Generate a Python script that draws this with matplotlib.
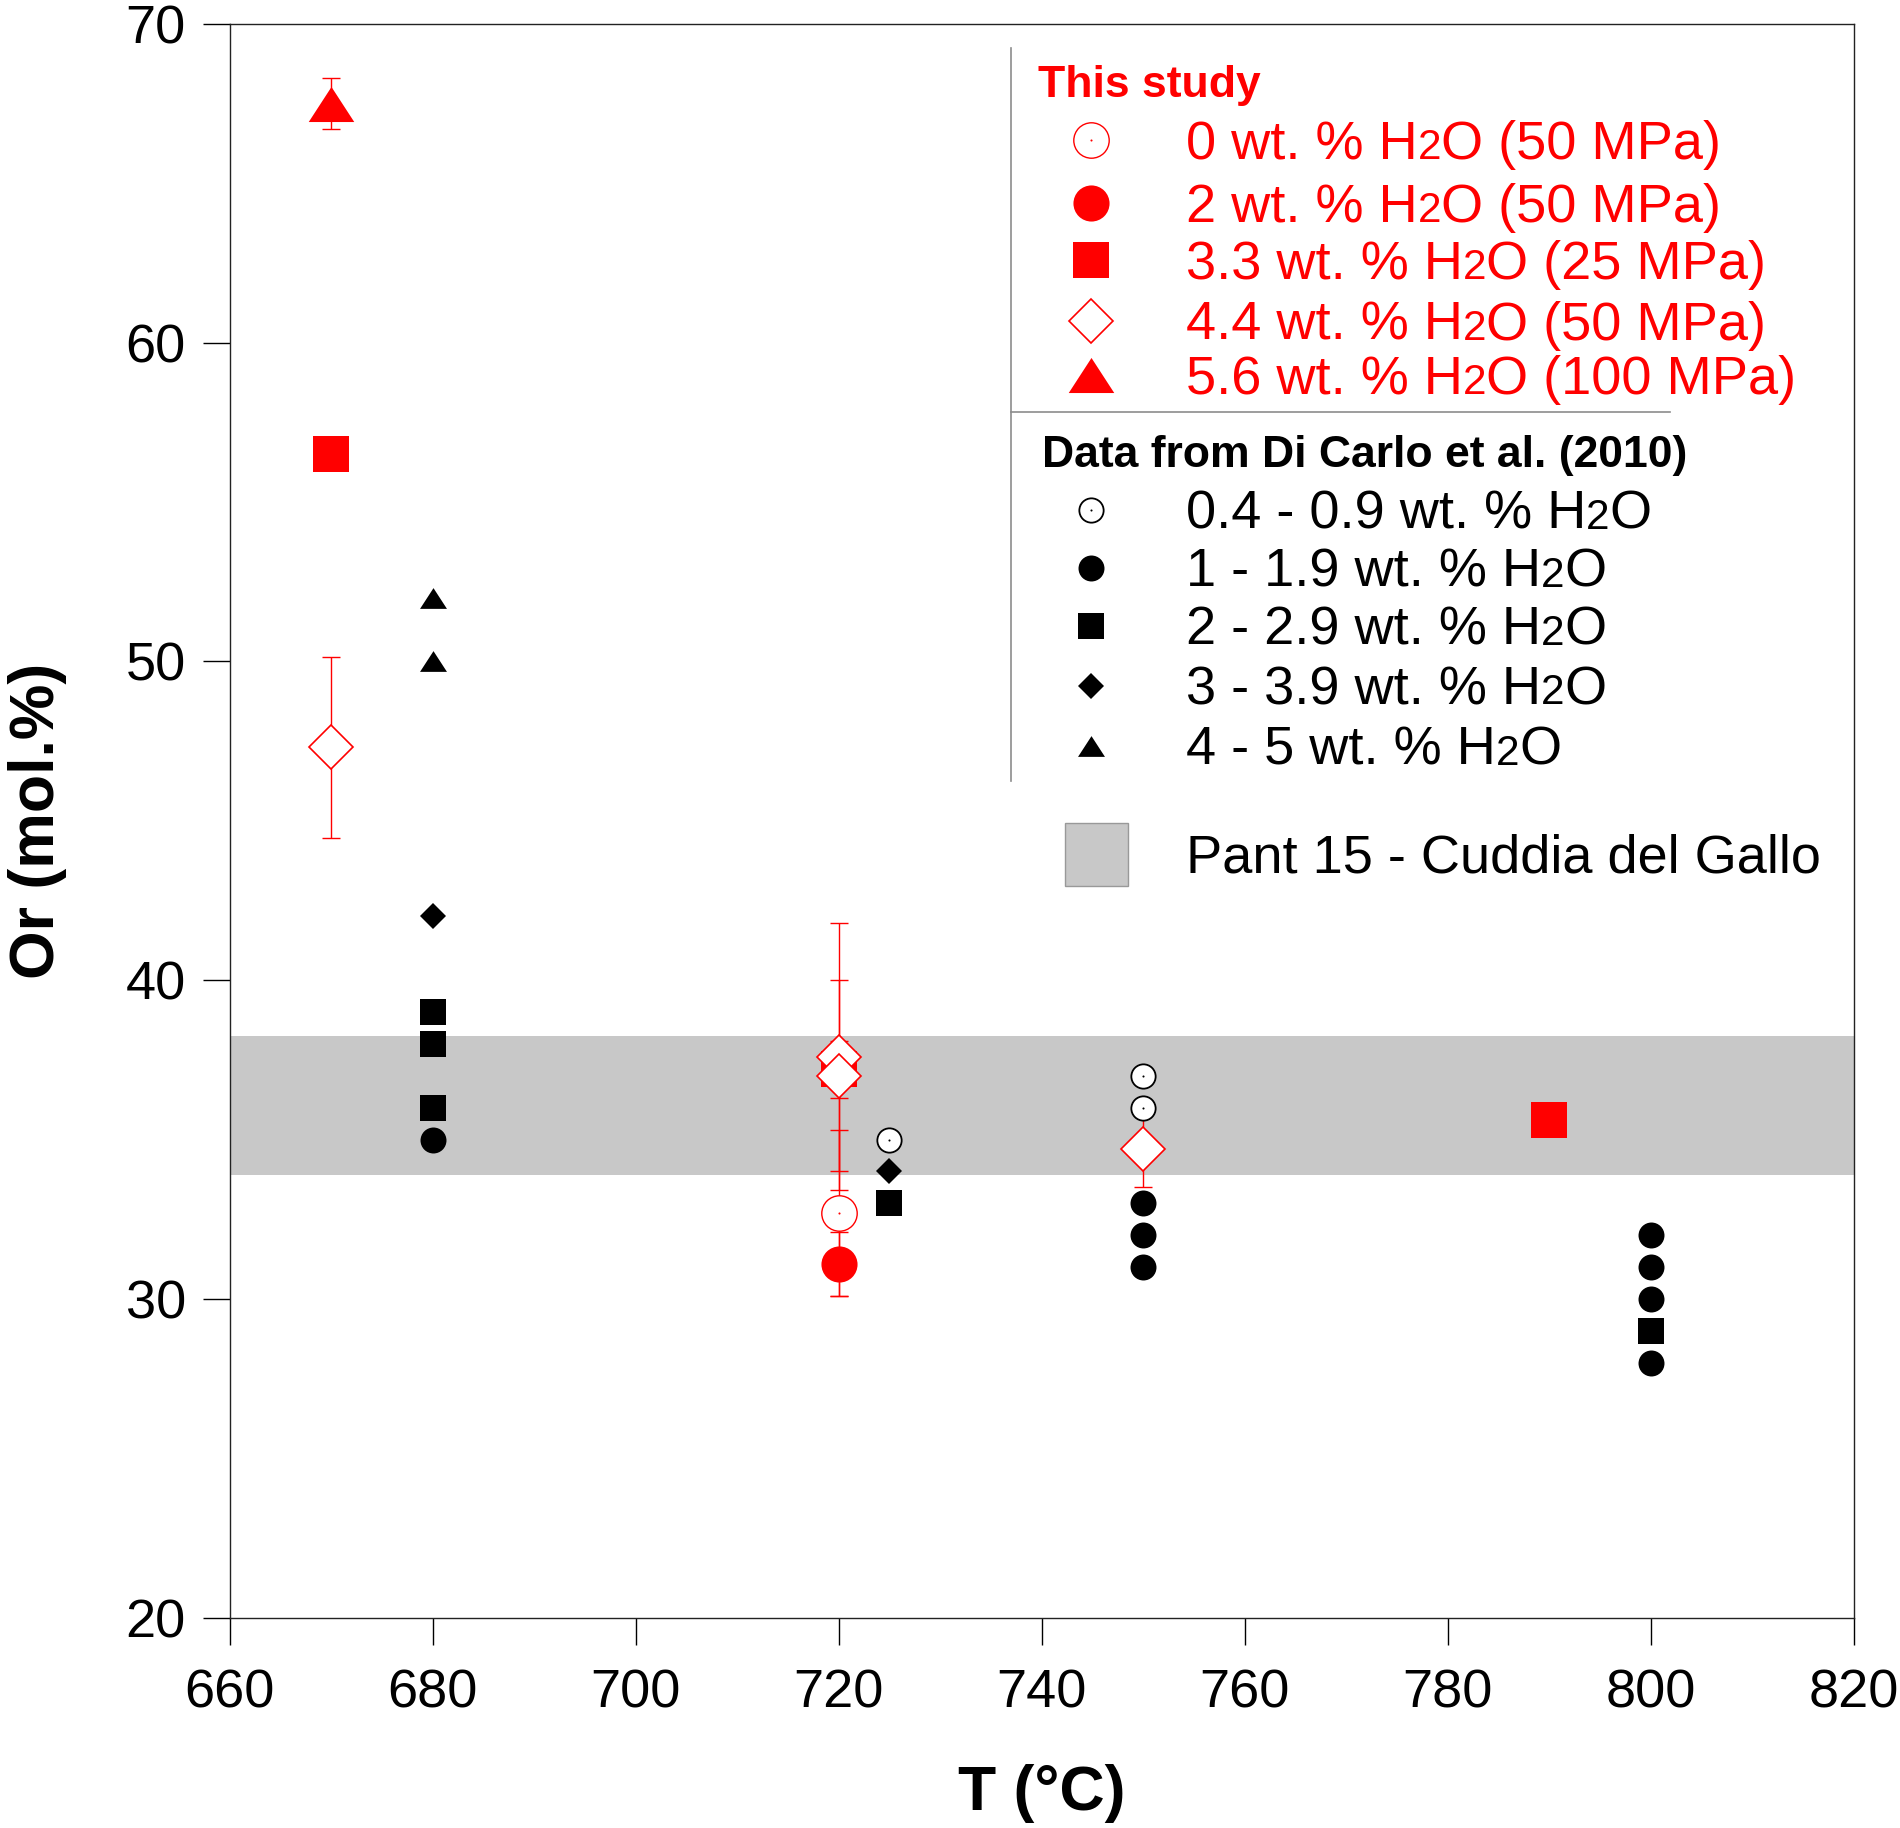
import matplotlib
matplotlib.use("Agg")
import matplotlib.pyplot as plt
from matplotlib.offsetbox import TextArea, HPacker, AnchoredOffsetbox
from matplotlib.patches import Rectangle
from matplotlib.lines import Line2D

plt.rcParams['font.family'] = ['Liberation Sans', 'DejaVu Sans']

# ---------------- data ----------------
# This study (red), with symmetric error bars
t_h2o_0 = [720]
or_h2o_0 = [32.7]
err_h2o_0 = [2.6]

t_h2o_2 = [720]
or_h2o_2 = [31.1]
err_h2o_2 = [1.0]

t_h2o_33 = [670, 720, 790]
or_h2o_33 = [56.5, 37.2, 35.6]
err_h2o_33 = [0.1, 0.9, 0.0]

t_h2o_44 = [670, 720, 720, 750]
or_h2o_44 = [47.3, 37.6, 37.0, 34.7]
err_h2o_44 = [2.85, 4.2, 3.0, 1.2]

t_h2o_56 = [670]
or_h2o_56 = [67.5]
err_h2o_56 = [0.8]

# Di Carlo et al. (2010) (black)
dc_t_04 = [725, 750, 750]
dc_or_04 = [35, 37, 36]
dc_t_1 = [680, 750, 750, 750, 800, 800, 800, 800]
dc_or_1 = [35, 33, 32, 31, 32, 31, 30, 28]
dc_t_2 = [680, 680, 680, 725, 800]
dc_or_2 = [39, 38, 36, 33, 29]
dc_t_3 = [680, 725]
dc_or_3 = [42, 34]
dc_t_4 = [680, 680]
dc_or_4 = [52, 50]

# Pant 15 - Cuddia del Gallo range
band_lo, band_hi = 33.9, 38.25

x_ticks = [660, 680, 700, 720, 740, 760, 780, 800, 820]
y_ticks = [20, 30, 40, 50, 60, 70]

red_title = "This study"
red_labels = ["0 wt. % H2O (50 MPa)", "2 wt. % H2O (50 MPa)", "3.3 wt. % H2O (25 MPa)",
              "4.4 wt. % H2O (50 MPa)", "5.6 wt. % H2O (100 MPa)"]
black_title = "Data from Di Carlo et al. (2010)"
black_labels = ["0.4 - 0.9 wt. % H2O", "1 - 1.9 wt. % H2O", "2 - 2.9 wt. % H2O",
                "3 - 3.9 wt. % H2O", "4 - 5 wt. % H2O"]
band_label = "Pant 15 - Cuddia del Gallo"

# ---------------- styles ----------------
RED = '#ff0000'
BAND = '#c8c8c8'
tri = [(-1, -0.77), (1, -0.77), (0, 0.77), (-1, -0.77)]

red_styles = [
    dict(marker='o', ms=25.5, mfc='white', mec=RED, mew=1.0),
    dict(marker='o', ms=26, mfc=RED, mec=RED, mew=0),
    dict(marker='s', ms=26.6, mfc=RED, mec=RED, mew=0),
    dict(marker='D', ms=22.0, mfc='white', mec=RED, mew=1.2),
    dict(marker=tri, ms=32.8, mfc=RED, mec=RED, mew=0),
]
black_styles = [
    dict(marker='o', ms=17.5, mfc='white', mec='black', mew=1.3),
    dict(marker='o', ms=18.7, mfc='black', mec='black', mew=0),
    dict(marker='s', ms=19.4, mfc='black', mec='black', mew=0),
    dict(marker='D', ms=13.7, mfc='black', mec='black', mew=0),
    dict(marker=tri, ms=19.4, mfc='black', mec='black', mew=0),
]

fig = plt.figure(figsize=(19, 18.28), dpi=100)
ax = fig.add_axes([0.12079, 0.1151, 0.855, 0.8718])

ax.axhspan(band_lo, band_hi, color=BAND, lw=0, zorder=1)

red_sets = [(t_h2o_0, or_h2o_0, err_h2o_0), (t_h2o_2, or_h2o_2, err_h2o_2),
            (t_h2o_33, or_h2o_33, err_h2o_33), (t_h2o_44, or_h2o_44, err_h2o_44),
            (t_h2o_56, or_h2o_56, err_h2o_56)]
for t, o, e in red_sets:
    ax.errorbar(t, o, yerr=e, fmt='none', ecolor=RED, elinewidth=1.0,
                capsize=6.8, capthick=1.0, zorder=2)

black_sets = [(dc_t_04, dc_or_04), (dc_t_1, dc_or_1), (dc_t_2, dc_or_2),
              (dc_t_3, dc_or_3), (dc_t_4, dc_or_4)]
for (t, o), st in zip(black_sets, black_styles):
    ax.plot(t, o, ls='none', zorder=3, **st)
ax.plot(dc_t_04, dc_or_04, ls='none', marker='o', ms=1.5, color='black', mew=0, zorder=3.1)

for i, ((t, o, e), st) in enumerate(zip(red_sets, red_styles)):
    ax.plot(t, o, ls='none', zorder=4 + i * 0.1, **st)
ax.plot(t_h2o_0, or_h2o_0, ls='none', marker='o', ms=1.5, color=RED, mew=0, zorder=4.05)

ax.set_xlim(660, 820)
ax.set_ylim(20, 70)
ax.set_xticks(x_ticks)
ax.set_yticks(y_ticks)
ax.tick_params(direction='out', length=19.5, width=1.0, labelsize=39)
ax.tick_params(axis='x', pad=17)
ax.tick_params(axis='y', pad=12)
for s in ax.spines.values():
    s.set_linewidth(1.0)
    s.set_color('#222222')

ax.set_xlabel("T (°C)", fontsize=45, fontweight='bold')
ax.set_ylabel("Or (mol.%)", fontsize=45, fontweight='bold')
ax.xaxis.set_label_coords(0.5, -0.092)
ax.yaxis.set_label_coords(-0.100, 0.5)

# ---------------- legend (drawn by hand) ----------------
T = ax.transAxes
ax.add_line(Line2D([0.4813, 0.4813], [0.9848, 0.5247], transform=T, color='#8c8c8c', lw=1.2, clip_on=False))
ax.add_line(Line2D([0.4813, 0.8866], [0.7567, 0.7567], transform=T, color='#8c8c8c', lw=1.2, clip_on=False))

DY = 0.003  # text baseline correction relative to marker centres

def h2o_label(txt, color, fx, fy, size=39):
    pre, post = txt.split("H2O")
    parts = [TextArea(pre + "H", textprops=dict(color=color, fontsize=size)),
             TextArea("2", textprops=dict(color=color, fontsize=size * 0.78)),
             TextArea("O" + post, textprops=dict(color=color, fontsize=size))]
    box = HPacker(children=parts, align="baseline", pad=0, sep=0)
    ab = AnchoredOffsetbox(loc='center left', child=box, pad=0, borderpad=0, frameon=False,
                           bbox_to_anchor=(fx, fy - DY), bbox_transform=T)
    ax.add_artist(ab)

mx, tx = 0.5306, 0.5888
ax.text(0.4978, 0.9643 - DY, red_title, transform=T, color=RED, fontsize=32, fontweight='bold',
        ha='left', va='center')
red_rows = [0.9270, 0.8875, 0.8517, 0.8137, 0.7795]
for lab, fy, st in zip(red_labels, red_rows, red_styles):
    ax.plot([mx], [fy], transform=T, ls='none', clip_on=False, zorder=5, **st)
    h2o_label(lab, RED, tx, fy)
ax.plot([mx], [red_rows[0]], transform=T, ls='none', marker='o', ms=1.5, color=RED, mew=0,
        clip_on=False, zorder=5.1)

ax.text(0.5, 0.7323 - DY, black_title, transform=T, color='black', fontsize=32, fontweight='bold',
        ha='left', va='center')
black_rows = [0.6951, 0.6586, 0.6221, 0.5848, 0.5468]
for lab, fy, st in zip(black_labels, black_rows, black_styles):
    ax.plot([mx], [fy], transform=T, ls='none', clip_on=False, zorder=5, **st)
    h2o_label(lab, 'black', tx, fy)
ax.plot([mx], [black_rows[0]], transform=T, ls='none', marker='o', ms=1.5, color='black', mew=0,
        clip_on=False, zorder=5.1)

ax.add_patch(Rectangle((0.5142, 0.4593), 0.0388, 0.0396, transform=T, facecolor=BAND,
                       edgecolor='#999999', lw=1.0, zorder=5))
ax.text(tx, 0.4791 - DY, band_label, transform=T, color='black', fontsize=39, ha='left', va='center')

fig.savefig("out.png", dpi=100)
